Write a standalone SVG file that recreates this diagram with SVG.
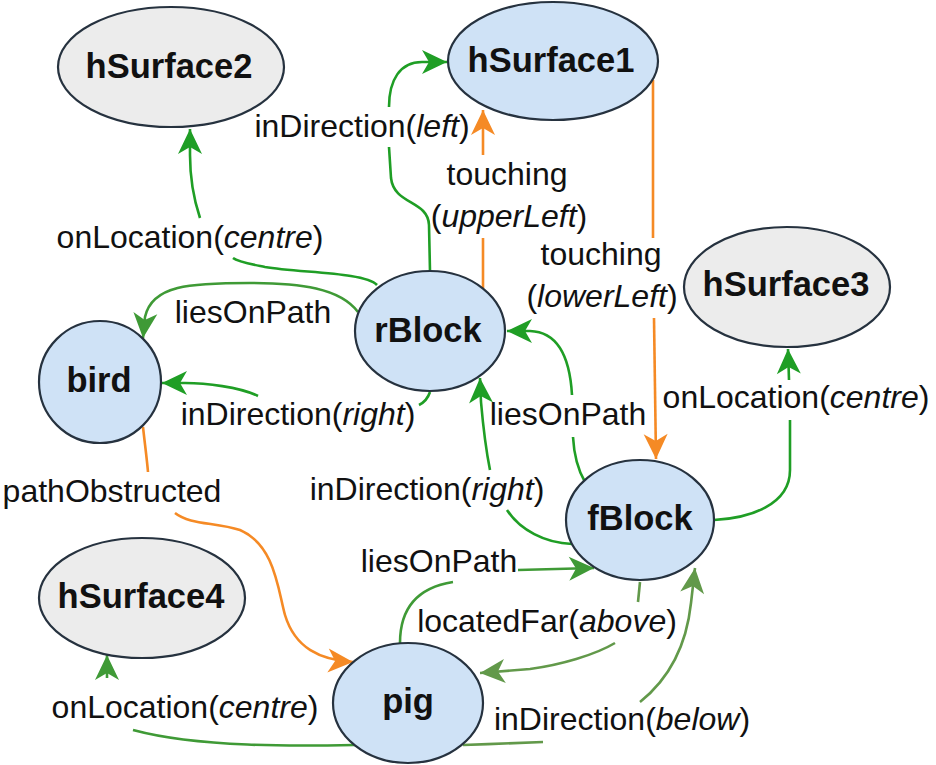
<svg xmlns="http://www.w3.org/2000/svg" width="936" height="765" viewBox="0 0 936 765">
<style>
.nb{fill:#cfe2f6;stroke:#26323f;stroke-width:2.2}
.ng{fill:#ececec;stroke:#26323f;stroke-width:2.2}
.nt{font-family:"Liberation Sans",Arial,sans-serif;font-weight:bold;font-size:34.5px;fill:#111;text-anchor:middle}
.lt{font-family:"Liberation Sans",Arial,sans-serif;font-size:32px;fill:#111;text-anchor:middle}
.lt tspan.i{font-style:italic}
.e{fill:none;stroke-width:2.6}
.g1{stroke:#1f9e25}
.g2{stroke:#3f9a36}
.g3{stroke:#62994a}
.o{stroke:#f58a25}
</style>
<defs>
<marker id="aG1" markerUnits="userSpaceOnUse" viewBox="-26 -14 28 28" refX="0" refY="0" markerWidth="28" markerHeight="28" orient="auto"><path d="M0,0 L-25,-12 L-18,0 L-25,12 Z" fill="#1f9e25"/></marker>
<marker id="aG2" markerUnits="userSpaceOnUse" viewBox="-26 -14 28 28" refX="0" refY="0" markerWidth="28" markerHeight="28" orient="auto"><path d="M0,0 L-25,-12 L-18,0 L-25,12 Z" fill="#3f9a36"/></marker>
<marker id="aG3" markerUnits="userSpaceOnUse" viewBox="-26 -14 28 28" refX="0" refY="0" markerWidth="28" markerHeight="28" orient="auto"><path d="M0,0 L-25,-12 L-18,0 L-25,12 Z" fill="#62994a"/></marker>
<marker id="aO" markerUnits="userSpaceOnUse" viewBox="-26 -14 28 28" refX="0" refY="0" markerWidth="28" markerHeight="28" orient="auto"><path d="M0,0 L-25,-12 L-18,0 L-25,12 Z" fill="#f58a25"/></marker>
</defs>
<rect width="936" height="765" fill="#ffffff"/>
<g id="connectors">
<!-- rBlock -> hSurface1 inDirection(left) -->
<path class="e g1" d="M430,271 L429,225 C428,200 394,205 391,178 L389,147"/>
<path class="e g1" d="M389,107 C389,80 400,62 422,62 L447,62" marker-end="url(#aG1)"/>
<!-- rBlock -> hSurface1 touching(upperLeft) -->
<path class="e o" d="M483,288 L483,238"/>
<path class="e o" d="M483,155 L483,110" marker-end="url(#aO)"/>
<!-- hSurface1 -> fBlock touching(lowerLeft) -->
<path class="e o" d="M653,80 L653,238"/>
<path class="e o" d="M654,318 L656,459" marker-end="url(#aO)"/>
<!-- rBlock -> hSurface2 onLocation(centre) -->
<path class="e g1" d="M377,285 C365,272 300,273 265,267 C250,264 238,262 233,258"/>
<path class="e g1" d="M200,218 C194,200 190,180 190,155 L190,129" marker-end="url(#aG1)"/>
<!-- rBlock -> bird liesOnPath -->
<path class="e g2" d="M358,312 C340,288 300,283 250,283 C190,283 152,285 145,317 L143,338" marker-end="url(#aG2)"/>
<!-- rBlock -> bird inDirection(right) -->
<path class="e g1" d="M430,392 C428,398 425,402 419,405"/>
<path class="e g1" d="M258,396 C240,387 205,383 185,383 L162,383" marker-end="url(#aG1)"/>
<!-- fBlock -> rBlock liesOnPath -->
<path class="e g1" d="M585,482 C578,470 574,455 573,437"/>
<path class="e g1" d="M572,395 C570,360 560,332 530,331 L507,331" marker-end="url(#aG1)"/>
<!-- fBlock -> rBlock inDirection(right) -->
<path class="e g1" d="M572,544 C545,543 520,530 507,510"/>
<path class="e g1" d="M490,470 C486,450 483,425 481,402 L480,378" marker-end="url(#aG1)"/>
<!-- fBlock -> hSurface3 onLocation(centre) -->
<path class="e g1" d="M714,520 C750,518 790,505 790,470 L790,420"/>
<path class="e g1" d="M789,380 L788,349" marker-end="url(#aG1)"/>
<!-- bird -> pig pathObstructed -->
<path class="e o" d="M143,427 C145,445 147,460 148,472"/>
<path class="e o" d="M175,513 C190,525 215,522 240,530 C275,545 278,590 285,615 C295,648 320,660 353,662" marker-end="url(#aO)"/>
<!-- pig -> hSurface4 onLocation(centre) -->
<path class="e g2" d="M356,745 C300,746 200,748 133,730"/>
<path class="e g2" d="M107,678 L107,655" marker-end="url(#aG2)"/>
<!-- pig -> fBlock liesOnPath -->
<path class="e g2" d="M400,643 C400,610 415,588 453,582"/>
<path class="e g2" d="M518,570 L594,568" marker-end="url(#aG2)"/>
<!-- fBlock -> pig locatedFar(above) -->
<path class="e g3" d="M640,582 L638,602"/>
<path class="e g3" d="M615,643 C595,655 560,665 530,669 L480,673" marker-end="url(#aG3)"/>
<!-- pig -> fBlock inDirection(below) -->
<path class="e g3" d="M463,745 C490,744 520,743 543,742"/>
<path class="e g3" d="M640,702 C665,682 686,650 691,603 L695,568" marker-end="url(#aG3)"/>
</g>
<g id="labels">
<text class="lt" x="362" y="137">inDirection(<tspan class="i">left</tspan>)</text>
<text class="lt" x="507" y="185">touching</text>
<text class="lt" x="509" y="227">(<tspan class="i">upperLeft</tspan>)</text>
<text class="lt" x="601" y="265">touching</text>
<text class="lt" x="602" y="307">(<tspan class="i">lowerLeft</tspan>)</text>
<text class="lt" x="190" y="248">onLocation(<tspan class="i">centre</tspan>)</text>
<text class="lt" x="253" y="323">liesOnPath</text>
<text class="lt" x="298" y="425">inDirection(<tspan class="i">right</tspan>)</text>
<text class="lt" x="568" y="425">liesOnPath</text>
<text class="lt" x="796" y="408">onLocation(<tspan class="i">centre</tspan>)</text>
<text class="lt" x="112" y="502">pathObstructed</text>
<text class="lt" x="427" y="500">inDirection(<tspan class="i">right</tspan>)</text>
<text class="lt" x="439" y="572">liesOnPath</text>
<text class="lt" x="547" y="632">locatedFar(<tspan class="i">above</tspan>)</text>
<text class="lt" x="185" y="718">onLocation(<tspan class="i">centre</tspan>)</text>
<text class="lt" x="622" y="730">inDirection(<tspan class="i">below</tspan>)</text>
</g>
<g id="hSurface2"><ellipse class="ng" cx="171" cy="67" rx="113" ry="60"/><text class="nt" x="169" y="78">hSurface2</text></g>
<g id="hSurface1"><ellipse class="nb" cx="553" cy="61" rx="105" ry="59"/><text class="nt" x="551" y="72">hSurface1</text></g>
<g id="hSurface3"><ellipse class="ng" cx="787" cy="287" rx="103" ry="60"/><text class="nt" x="786" y="296">hSurface3</text></g>
<g id="rBlock"><ellipse class="nb" cx="430" cy="331" rx="75" ry="60"/><text class="nt" x="428" y="342">rBlock</text></g>
<g id="bird"><circle class="nb" cx="100" cy="382" r="61"/><text class="nt" x="99" y="392">bird</text></g>
<g id="fBlock"><ellipse class="nb" cx="640" cy="520" rx="74" ry="60"/><text class="nt" x="640" y="530">fBlock</text></g>
<g id="hSurface4"><ellipse class="ng" cx="142" cy="598" rx="103" ry="60"/><text class="nt" x="141" y="608">hSurface4</text></g>
<g id="pig"><ellipse class="nb" cx="408" cy="703" rx="75" ry="60"/><text class="nt" x="408" y="713">pig</text></g>
</svg>
